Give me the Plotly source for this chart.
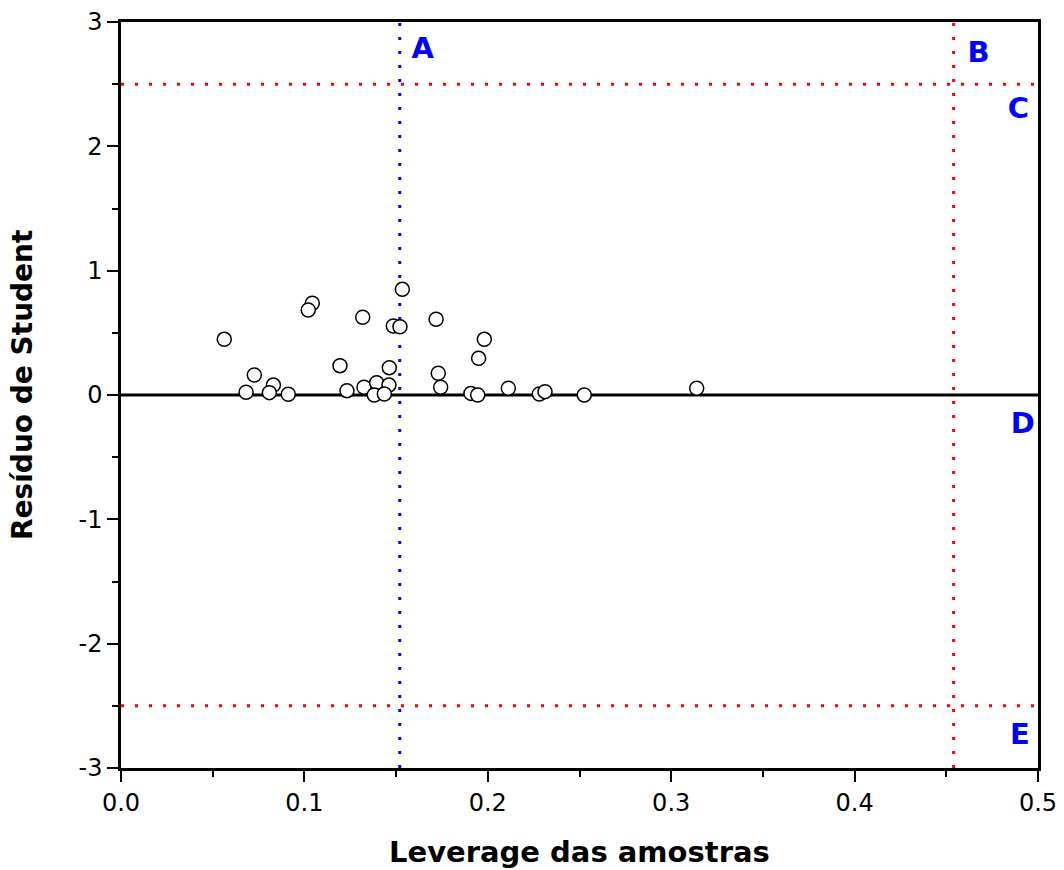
import plotly.graph_objects as go

# Data (leverage, studentized residual)
leverage = [0.0563, 0.1043, 0.1021, 0.1318, 0.1534, 0.1485, 0.1521, 0.1718, 0.1981, 0.1950,
            0.0727, 0.1194, 0.1463, 0.1730, 0.0831, 0.0682, 0.0809, 0.0912, 0.1232, 0.1325,
            0.1394, 0.1461, 0.1381, 0.1436, 0.1743, 0.1908, 0.1945, 0.2112, 0.2526, 0.3139,
            0.2281, 0.2312]
residuo = [0.448, 0.738, 0.684, 0.625, 0.850, 0.555, 0.549, 0.609, 0.448, 0.295,
           0.161, 0.236, 0.220, 0.175, 0.080, 0.022, 0.019, 0.006, 0.035, 0.062,
           0.099, 0.080, 0.000, 0.008, 0.062, 0.013, 0.000, 0.054, 0.000, 0.054,
           0.008, 0.027]

h_star = 0.152      # line A
h_limit = 0.454     # line B
res_limit = 2.5     # lines C / E

region_labels = ["A", "B", "C", "D", "E"]
label_x = [0.1645, 0.4676, 0.4893, 0.4917, 0.4901]
label_y = [2.77, 2.734, 2.288, -0.244, -2.748]

x_tickvals = [0.0, 0.1, 0.2, 0.3, 0.4, 0.5]
x_ticktext = ["0.0", "0.1", "0.2", "0.3", "0.4", "0.5"]
y_tickvals = [-3, -2, -1, 0, 1, 2, 3]
y_ticktext = ["-3", "-2", "-1", "0", "1", "2", "3"]

x_title = "Leverage das amostras"
y_title = "Resíduo de Student"

FONT = "Verdana, DejaVu Sans, sans-serif"
DOT = "3px,11px"

fig = go.Figure()

# zero line
fig.add_trace(go.Scatter(x=[0, 0.5], y=[0, 0], mode="lines",
                         line=dict(color="black", width=3), hoverinfo="skip", showlegend=False))
# horizontal limits
for yv in (res_limit, -res_limit):
    fig.add_trace(go.Scatter(x=[0, 0.5], y=[yv, yv], mode="lines",
                             line=dict(color="red", width=3, dash=DOT), showlegend=False))
# vertical lines
fig.add_trace(go.Scatter(x=[h_star, h_star], y=[-3, 3], mode="lines",
                         line=dict(color="blue", width=3, dash=DOT), showlegend=False))
fig.add_trace(go.Scatter(x=[h_limit, h_limit], y=[-3, 3], mode="lines",
                         line=dict(color="red", width=3, dash=DOT), showlegend=False))

# points
fig.add_trace(go.Scatter(x=leverage, y=residuo, mode="markers",
                         marker=dict(size=14, color="white", line=dict(color="black", width=1.5)),
                         showlegend=False))

# labels
fig.add_trace(go.Scatter(x=label_x, y=label_y, mode="text", text=region_labels,
                         textfont=dict(family=FONT, size=29, color="blue", weight="bold"),
                         showlegend=False, hoverinfo="skip"))

axis_common = dict(showline=True, linecolor="black", linewidth=2.5, mirror=True,
                   ticks="outside", ticklen=11, tickwidth=2, tickcolor="black",
                   showgrid=False, zeroline=False, automargin=False,
                   tickfont=dict(family=FONT, size=24, color="black"))

fig.update_xaxes(range=[0, 0.5], tickmode="array", tickvals=x_tickvals, ticktext=x_ticktext,
                 minor=dict(dtick=0.05, ticks="outside", ticklen=6, tickwidth=2, tickcolor="black"),
                 **axis_common)
fig.update_yaxes(range=[-3, 3], tickmode="array", tickvals=y_tickvals, ticktext=y_ticktext,
                 minor=dict(dtick=0.5, ticks="outside", ticklen=6, tickwidth=2, tickcolor="black"),
                 **axis_common)

fig.add_annotation(text=x_title, xref="paper", yref="paper", x=0.5005, y=-0.1126,
                   xanchor="center", yanchor="middle", showarrow=False,
                   font=dict(family=FONT, size=29, color="black", weight="bold"))
fig.add_annotation(text=y_title, xref="paper", yref="paper", x=-0.108, y=0.5134,
                   xanchor="center", yanchor="middle", textangle=-90, showarrow=False,
                   font=dict(family=FONT, size=28, color="black", weight="bold"))

fig.update_layout(width=1064, height=870, plot_bgcolor="white", paper_bgcolor="white",
                  margin=dict(l=121, r=26, t=22, b=102), showlegend=False)

fig.write_html("out.html")
